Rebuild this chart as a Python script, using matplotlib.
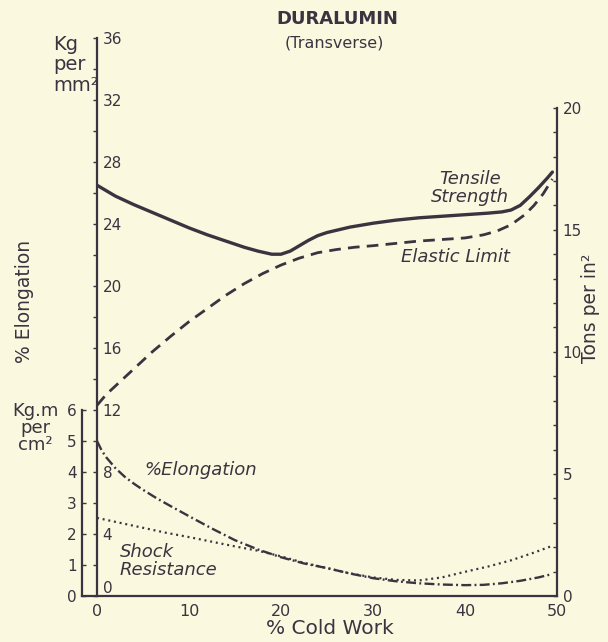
import matplotlib
matplotlib.use("Agg")
import matplotlib.pyplot as plt
from matplotlib.ticker import FixedLocator

# ---- data -------------------------------------------------------------
# Tensile strength, Kg per mm^2
tensile_cold_work = [0, 2, 4, 6, 8, 10, 12, 14, 16, 17.5, 19, 20, 21, 22, 23, 24, 25,
                     27.5, 30, 32.5, 35, 37.5, 40, 42.5, 44, 45, 46, 47, 48, 49, 49.5]
tensile_strength = [26.5, 25.8, 25.25, 24.75, 24.25, 23.75, 23.3, 22.9, 22.5, 22.25,
                    22.05, 22.05, 22.25, 22.6, 22.95, 23.25, 23.45, 23.8, 24.05, 24.25,
                    24.4, 24.5, 24.6, 24.7, 24.78, 24.9, 25.2, 25.75, 26.35, 27.0, 27.35]

# Elastic limit, Kg per mm^2
elastic_cold_work = [0, 1, 2, 3, 4, 5, 6, 7, 8, 10, 12, 14, 16, 18, 20, 22, 24, 26,
                     28, 30, 32.5, 35, 37.5, 40, 42, 43.5, 45, 46.5, 47.5, 48.5, 49.5]
elastic_limit = [12.3, 13.0, 13.55, 14.1, 14.65, 15.2, 15.75, 16.25, 16.75, 17.7,
                 18.55, 19.4, 20.15, 20.8, 21.35, 21.8, 22.15, 22.35, 22.5, 22.6,
                 22.75, 22.9, 23.0, 23.1, 23.3, 23.55, 23.95, 24.6, 25.2, 25.95, 26.9]

# Elongation, %
elong_cold_work = [0, 0.5, 1, 1.5, 2, 3, 4, 5, 6.5, 8, 10, 12.5, 15, 17.5, 20, 22.5,
                   25, 27.5, 30, 32.5, 35, 37.5, 40, 42, 44, 46, 48, 49.5]
elongation = [10.0, 9.4, 8.95, 8.6, 8.25, 7.7, 7.25, 6.85, 6.3, 5.8, 5.15, 4.35, 3.6,
              3.0, 2.5, 2.1, 1.8, 1.45, 1.15, 0.95, 0.82, 0.74, 0.7, 0.72, 0.82, 0.98,
              1.2, 1.42]

# Shock resistance, Kg.m per cm^2
shock_cold_work = [0, 2.5, 5, 7.5, 10, 12.5, 15, 17.5, 20, 22.5, 25, 27.5, 30, 32.5,
                   35, 37.5, 40, 42.5, 45, 47.5, 49.5]
shock_resistance = [2.52, 2.36, 2.2, 2.04, 1.9, 1.75, 1.6, 1.46, 1.28, 1.07, 0.9, 0.73,
                    0.6, 0.52, 0.5, 0.6, 0.78, 0.95, 1.15, 1.4, 1.62]

cold_work_ticks = [0, 10, 20, 30, 40, 50]
kg_mm2_ticks = [0, 4, 8, 12, 16, 20, 24, 28, 32, 36]
kg_mm2_minor = list(range(0, 37, 2))
kgm_ticks = [0, 1, 2, 3, 4, 5, 6]
tons_ticks = [0, 5, 10, 15, 20]
tons_minor = list(range(0, 21))

KG_MM2_PER_TON_IN2 = 1.5749   # 1 long ton per sq. inch in Kg per mm^2

# ---- style ------------------------------------------------------------
PAPER = "#faf8de"
INK = "#3a3441"
plt.rcParams["font.family"] = ["DejaVu Sans"]

W, H = 608, 642
fig = plt.figure(figsize=(W / 100, H / 100), dpi=100, facecolor=PAPER)

# main frame: cold work vs Kg per mm^2 (also % elongation)
x0, x1, y0, y1 = 97, 557, 596, 38
ax = fig.add_axes([x0 / W, (H - y0) / H, (x1 - x0) / W, (y0 - y1) / H])
ax.patch.set_visible(False)
ax.set_xlim(0, 50)
ax.set_ylim(0, 36)
for s in ("top", "right"):
    ax.spines[s].set_visible(False)
for s in ("left", "bottom"):
    ax.spines[s].set_color(INK)
    ax.spines[s].set_linewidth(1.6)
ax.spines["left"].set_bounds(0, 36)
# bottom rule runs across to the Kg.m scale
px_per_unit = (x1 - x0) / 50
ax.spines["bottom"].set_bounds(-15 / px_per_unit, 50)

ax.xaxis.set_major_locator(FixedLocator(cold_work_ticks))
ax.tick_params(axis="x", length=0, pad=6, labelsize=11.5, colors=INK)
ax.yaxis.set_major_locator(FixedLocator(kg_mm2_ticks))
ax.yaxis.set_minor_locator(FixedLocator(kg_mm2_minor))
ax.tick_params(axis="y", which="both", direction="out", length=3, width=1, colors=INK)
ax.tick_params(axis="y", which="major", labelsize=11, pad=-7)
for lbl in ax.get_yticklabels():
    lbl.set_ha("left")
ax.yaxis.get_major_ticks()[0].label1.set_va("bottom")

# Kg.m per cm^2 scale, offset to the left
ax3 = ax.twinx()
ax3.set_ylim(0, 18)
for s in ("top", "right", "bottom"):
    ax3.spines[s].set_visible(False)
ax3.spines["left"].set_visible(True)
ax3.spines["left"].set_position(("outward", 15 * 0.72))
ax3.spines["left"].set_bounds(0, 6)
ax3.spines["left"].set_color(INK)
ax3.spines["left"].set_linewidth(1.6)
ax3.yaxis.set_ticks_position("left")
ax3.yaxis.set_major_locator(FixedLocator(kgm_ticks))
ax3.tick_params(axis="y", direction="in", length=3, width=1, labelsize=11,
                pad=4, colors=INK)

# Tons per in^2 scale on the right
ax2 = ax.twinx()
ax2.set_ylim(0, 36 / KG_MM2_PER_TON_IN2)
for s in ("top", "left", "bottom"):
    ax2.spines[s].set_visible(False)
ax2.spines["right"].set_bounds(0, 20)
ax2.spines["right"].set_color(INK)
ax2.spines["right"].set_linewidth(1.6)
ax2.yaxis.set_major_locator(FixedLocator(tons_ticks))
ax2.yaxis.set_minor_locator(FixedLocator(tons_minor))
ax2.tick_params(axis="y", which="both", direction="in", length=3, width=1,
                colors=INK)
ax2.tick_params(axis="y", which="major", labelsize=11, pad=4)

# ---- curves -----------------------------------------------------------
ax.plot(tensile_cold_work, tensile_strength, color=INK, lw=2.4,
        solid_capstyle="round", solid_joinstyle="round")
ax.plot(elastic_cold_work, elastic_limit, color=INK, lw=2.0,
        linestyle=(0, (4.2, 2.6)))
ax.plot(elong_cold_work, elongation, color=INK, lw=1.7,
        linestyle=(0, (4.2, 1.4, 0.8, 1.4)))
ax3.plot(shock_cold_work, shock_resistance, color=INK, lw=1.6,
         linestyle=(0, (0.9, 1.7)))

# ---- labels -----------------------------------------------------------
def ftext(x, y, s, **kw):
    kw.setdefault("color", INK)
    fig.text(x / W, 1 - y / H, s, **kw)

ftext(337, 19, "DURALUMIN", fontsize=13, fontweight="bold", ha="center", va="center")
ftext(334, 43, "(Transverse)", fontsize=11.5, ha="center", va="center")

ftext(53, 65, "Kg\nper\nmm²", fontsize=14, ha="left", va="center", linespacing=1.1)
ftext(35, 428, "Kg.m\nper\ncm²", fontsize=13, ha="center", va="center",
      linespacing=0.95)
ftext(25, 301, "% Elongation", fontsize=13.5, rotation=90, ha="center", va="center")
ftext(591, 308, "Tons per in²", fontsize=13.5, rotation=90, ha="center", va="center")
ftext(330, 629, "% Cold Work", fontsize=14.5, ha="center", va="center")

ital = dict(fontsize=13, style="italic", color=INK)
ftext(470, 188, "Tensile\nStrength", ha="center", va="center", linespacing=1.0, **ital)
ftext(455, 257, "Elastic Limit", ha="center", va="center", **ital)
ftext(201, 470, "%Elongation", ha="center", va="center", **ital)
ftext(120, 561, "Shock\nResistance", ha="left", va="center", linespacing=1.0, **ital)

fig.savefig("out.png", dpi=100, facecolor=PAPER)
